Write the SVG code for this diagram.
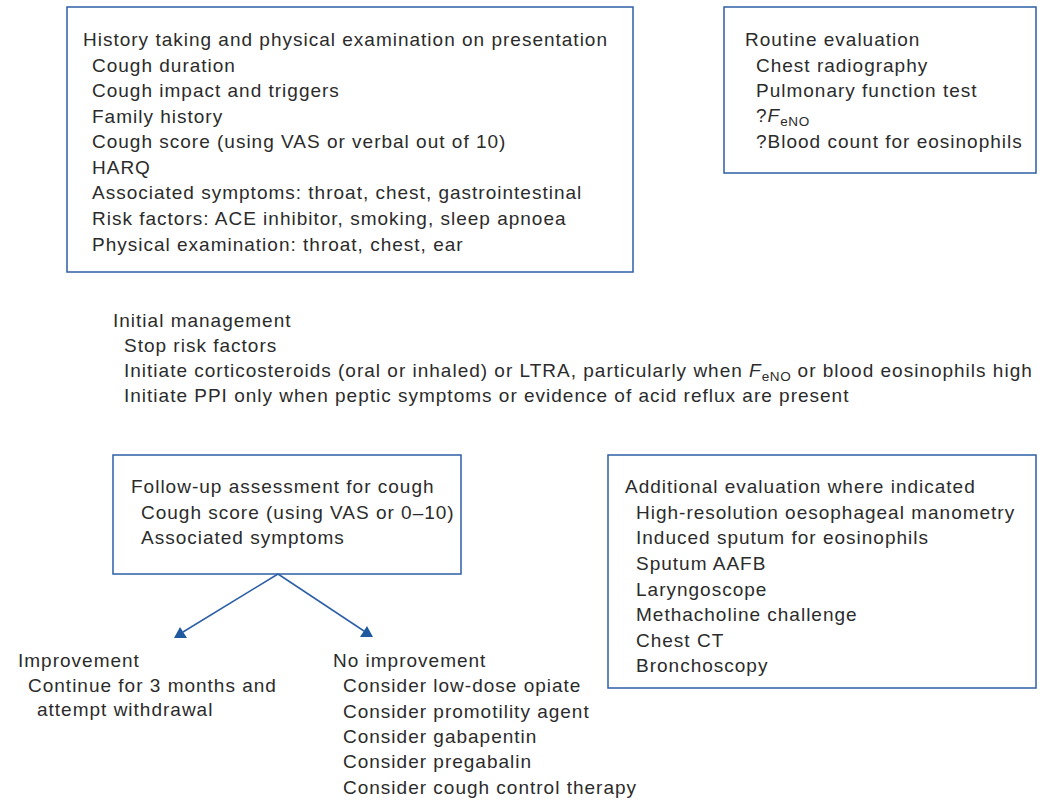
<svg xmlns="http://www.w3.org/2000/svg" width="1041" height="800" viewBox="0 0 1041 800">
<style>
.box{fill:#fff;stroke:#2d5fa6;stroke-width:1.5}
text{font-family:"Liberation Sans","DejaVu Sans",sans-serif;font-size:19px;letter-spacing:1px;fill:#2b2b2b}
.sub{font-size:13.5px;letter-spacing:0.6px}
.it{font-style:italic}
.conn{stroke:#2d5fa6;stroke-width:1.5;fill:none}
.head{fill:#1f5aa0}
</style>
<rect width="1041" height="800" fill="#fff"/>
<g id="history">
<rect class="box" x="67" y="7" width="566" height="265"/>
<text x="83" y="46">History taking and physical examination on presentation</text>
<text x="92" y="72">Cough duration</text>
<text x="92" y="97">Cough impact and triggers</text>
<text x="92" y="123">Family history</text>
<text x="92" y="148">Cough score (using VAS or verbal out of 10)</text>
<text x="92" y="174">HARQ</text>
<text x="92" y="199">Associated symptoms: throat, chest, gastrointestinal</text>
<text x="92" y="225">Risk factors: ACE inhibitor, smoking, sleep apnoea</text>
<text x="92" y="251">Physical examination: throat, chest, ear</text>
</g>
<g id="routine">
<rect class="box" x="724" y="7" width="312" height="166"/>
<text x="745" y="46">Routine evaluation</text>
<text x="756" y="72">Chest radiography</text>
<text x="756" y="97">Pulmonary function test</text>
<text x="756" y="122">?<tspan class="it">F</tspan><tspan class="sub" dy="4">eNO</tspan></text>
<text x="756" y="148">?Blood count for eosinophils</text>
</g>
<g id="initial">
<text x="113" y="327">Initial management</text>
<text x="124" y="352">Stop risk factors</text>
<text x="124" y="377">Initiate corticosteroids (oral or inhaled) or LTRA, particularly when <tspan class="it">F</tspan><tspan class="sub" dy="4">eNO</tspan><tspan dy="-4"> or blood eosinophils high</tspan></text>
<text x="124" y="402">Initiate PPI only when peptic symptoms or evidence of acid reflux are present</text>
</g>
<g id="followup">
<rect class="box" x="113" y="455" width="348" height="119"/>
<text x="131" y="493">Follow-up assessment for cough</text>
<text x="141" y="519">Cough score (using VAS or 0–10)</text>
<text x="141" y="544">Associated symptoms</text>
</g>
<g id="additional">
<rect class="box" x="608" y="455" width="428" height="233"/>
<text x="625" y="493">Additional evaluation where indicated</text>
<text x="636" y="519">High-resolution oesophageal manometry</text>
<text x="636" y="544">Induced sputum for eosinophils</text>
<text x="636" y="570">Sputum AAFB</text>
<text x="636" y="596">Laryngoscope</text>
<text x="636" y="621">Methacholine challenge</text>
<text x="636" y="647">Chest CT</text>
<text x="636" y="672">Bronchoscopy</text>
</g>
<g id="improvement">
<text x="18" y="667">Improvement</text>
<text x="28" y="692">Continue for 3 months and</text>
<text x="37" y="716">attempt withdrawal</text>
</g>
<g id="noimprovement">
<text x="333" y="667">No improvement</text>
<text x="343" y="692">Consider low-dose opiate</text>
<text x="343" y="718">Consider promotility agent</text>
<text x="343" y="743">Consider gabapentin</text>
<text x="343" y="768">Consider pregabalin</text>
<text x="343" y="794">Consider cough control therapy</text>
</g>
<g id="connectors">
<line class="conn" x1="278" y1="574" x2="183" y2="632"/>
<line class="conn" x1="278" y1="574" x2="364" y2="631"/>
<polygon class="head" points="180,627 174,638 187,638"/>
<polygon class="head" points="367,626 360,637 373,637"/>
</g>
</svg>
